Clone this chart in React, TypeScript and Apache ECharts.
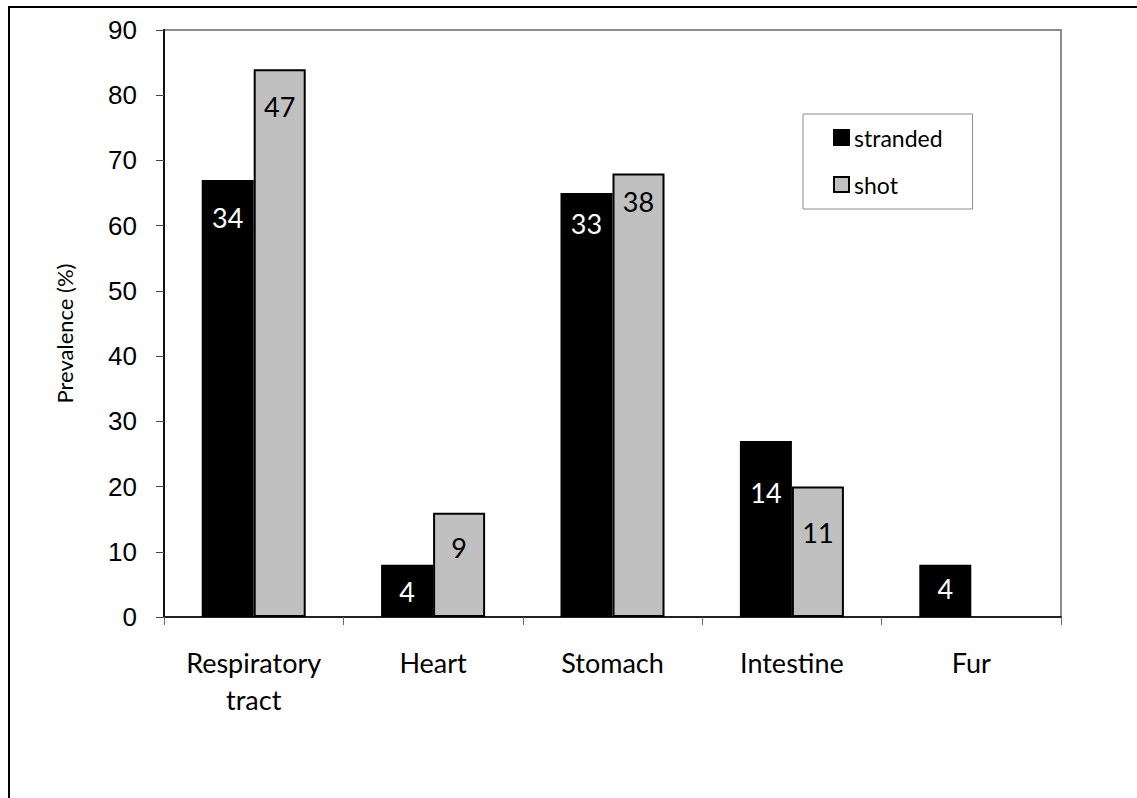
import React, { useEffect, useRef } from "react";
import * as echarts from "echarts";

const categories = ["Respiratory\ntract", "Heart", "Stomach", "Intestine", "Fur"];
const strandedValues = [67, 8, 65, 27, 8];
const shotValues: (number | null)[] = [84, 16, 68, 20, null];
const strandedCounts = ["34", "4", "33", "14", "4"];
const shotCounts: (string | null)[] = ["47", "9", "38", "11", null];
// value level (in %) at which each count label is centred
const strandedLabelLevels = [61.2, 3.9, 60.3, 19.1, 4.4];
const shotLabelLevels: (number | null)[] = [78.3, 10.6, 63.7, 12.9, null];
const yTicks = { min: 0, max: 90, interval: 10 };

const CAL = "Lato, 'Open Sans', sans-serif";
const ARIAL = "'Liberation Sans', Arial, sans-serif";

export default function App() {
  const ref = useRef<HTMLDivElement>(null);
  useEffect(() => {
    if (!ref.current) return;
    const chart = echarts.init(ref.current, null, { renderer: "svg" });
    const base: any = {
      animation: false,
      backgroundColor: "#ffffff",
      grid: {
        left: 164,
        top: 30,
        right: 76,
        bottom: 181,
        show: true,
        borderColor: "#8c8c8c",
        borderWidth: 2,
        backgroundColor: "transparent",
      },
      legend: {
        left: 803,
        top: 114,
        orient: "vertical",
        backgroundColor: "#ffffff",
        borderColor: "#8c8c8c",
        borderWidth: 1,
        borderRadius: 0,
        padding: [12, 30, 13, 30],
        itemGap: 24,
        itemWidth: 15,
        itemHeight: 15,
        itemStyle: { borderColor: "#000000", borderWidth: 2 },
        textStyle: { fontFamily: CAL, fontSize: 23, color: "#000", lineHeight: 22 },
        icon: "rect",
        itemTextGap: 5,
        data: ["stranded", "shot"],
      },
      xAxis: {
        type: "category",
        data: categories,
        axisLine: { show: true, lineStyle: { color: "#222", width: 2 } },
        axisTick: { show: true, alignWithLabel: false, length: 8, lineStyle: { color: "#666", width: 1 } },
        axisLabel: {
          fontFamily: CAL,
          fontSize: 27,
          color: "#000",
          margin: 27,
          lineHeight: 37,
          interval: 0,
        },
        splitLine: { show: false },
      },
      yAxis: {
        type: "value",
        min: yTicks.min,
        max: yTicks.max,
        interval: yTicks.interval,
        name: "Prevalence (%)",
        nameLocation: "middle",
        nameRotate: 90,
        nameGap: 89,
        nameTextStyle: { fontFamily: CAL, fontSize: 22, color: "#000", padding: [0, 20, 0, 0] },
        axisLine: { show: true, lineStyle: { color: "#111", width: 2 } },
        axisTick: { show: true, inside: false, length: 8, lineStyle: { color: "#444", width: 1 } },
        axisLabel: { fontFamily: ARIAL, fontSize: 26, color: "#000", margin: 27 },
        splitLine: { show: false },
      },
      series: [
        {
          name: "stranded",
          type: "bar",
          barWidth: 52,
          barGap: "0%",
          itemStyle: { color: "#000000", borderColor: "#000000", borderWidth: 2 },
          data: strandedValues,
        },
        {
          name: "shot",
          type: "bar",
          barWidth: 52,
          barGap: "0%",
          itemStyle: { color: "#c0c0c0", borderColor: "#000000", borderWidth: 2 },
          data: shotValues,
        },
      ],
      graphic: [
        {
          type: "rect",
          shape: { x: 9, y: 7, width: 3000, height: 3000 },
          style: { fill: "none", stroke: "#000", lineWidth: 2 },
          silent: true,
          z: 100,
        },
      ],
    };
    chart.setOption(base);

    const py = (v: number) => chart.convertToPixel({ yAxisIndex: 0 }, v) as number;
    const mk = (
      values: (number | null)[],
      counts: (string | null)[],
      levels: (number | null)[],
      color: string
    ) =>
      values.map((v, i) => {
        if (v == null) return { value: null };
        const lvl = levels[i];
        const dy = lvl == null ? 0 : py(lvl) - py(v);
        return {
          value: v,
          label: {
            show: counts[i] != null,
            formatter: counts[i] ?? "",
            position: ["50%", dy],
            align: "center",
            verticalAlign: "middle",
            fontFamily: CAL,
            fontSize: 27,
            color,
          },
        };
      });

    chart.setOption({
      series: [
        { name: "stranded", data: mk(strandedValues, strandedCounts, strandedLabelLevels, "#ffffff") },
        { name: "shot", data: mk(shotValues, shotCounts, shotLabelLevels, "#000000") },
      ],
    });

    return () => chart.dispose();
  }, []);
  return (
    <div
      ref={ref}
      style={{ position: "absolute", left: 0, top: 0, width: 1137, height: 798 }}
    />
  );
}
